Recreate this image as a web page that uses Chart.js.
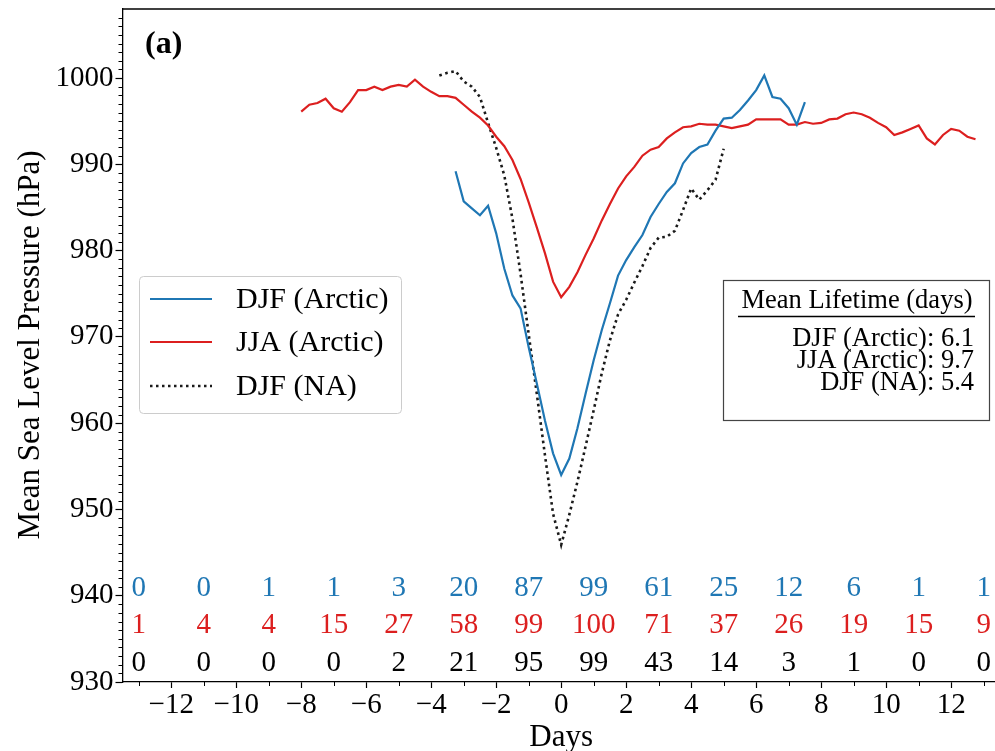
<!DOCTYPE html>
<html>
<head>
<meta charset="utf-8">
<script src="https://cdn.jsdelivr.net/npm/chart.js@4.4.1/dist/chart.umd.min.js"></script>
<style>
  html, body { margin: 0; padding: 0; background: #fff; overflow: hidden; }
  #wrap { width: 995px; height: 751px; position: relative; }
</style>
</head>
<body>
<div id="wrap"><canvas id="c" width="995" height="751"></canvas></div>
<script>
// Composite mean sea level pressure around the time of minimum pressure (day 0).
// Each series is sampled every 0.25 day, starting at the given day.
const STEP = 0.25;

const djfArcticStart = -3.25;
const djfArctic = [
  989.2, 985.7, 984.9, 984.1, 985.2, 982.0, 977.9, 974.8, 973.3, 968.8,
  964.6, 960.3, 956.5, 954.0, 955.9, 959.4, 963.4, 967.3, 970.8, 973.9,
  977.1, 978.9, 980.4, 981.8, 983.9, 985.4, 986.8, 987.8, 990.1, 991.3,
  992.0, 992.3, 993.9, 995.3, 995.4, 996.3, 997.4, 998.6, 1000.3, 997.8,
  997.6, 996.5, 994.6, 997.2
];

const jjaArcticStart = -8.0;
const jjaArctic = [
  996.1, 996.9, 997.1, 997.6, 996.5, 996.1, 997.2, 998.6, 998.6, 999.0,
  998.6, 999.0, 999.2, 999.0, 999.8, 999.0, 998.4, 997.9, 997.9, 997.7,
  996.9, 996.1, 995.4, 994.5, 993.2, 992.1, 990.5, 988.3, 985.6, 982.7,
  979.7, 976.4, 974.6, 975.8, 977.5, 979.5, 981.4, 983.5, 985.4, 987.2,
  988.6, 989.7, 991.0, 991.7, 992.0, 993.0, 993.7, 994.3, 994.4, 994.7,
  994.6, 994.6, 994.4, 994.2, 994.4, 994.6, 995.2, 995.2, 995.2, 995.2,
  994.6, 994.6, 994.9, 994.7, 994.8, 995.2, 995.3, 995.8, 996.0, 995.8,
  995.4, 994.8, 994.3, 993.4, 993.7, 994.1, 994.5, 993.0, 992.3, 993.4,
  994.1, 993.9, 993.2, 992.9
];

const djfNAStart = -3.75;
const djfNA = [
  1000.3, 1000.6, 1000.8, 999.6, 999.0, 997.8, 994.8, 991.9, 988.7, 983.7,
  977.3, 970.3, 963.4, 956.3, 949.5, 945.9, 949.4, 953.2, 957.3, 961.5,
  965.8, 969.6, 972.6, 974.3, 976.3, 978.2, 980.3, 981.5, 981.6, 982.3,
  984.7, 987.2, 985.9, 987.0, 988.2, 991.8
];

// Percentage of cyclones still alive, printed in two-day bins
const countDays = [-13, -11, -9, -7, -5, -3, -1, 1, 3, 5, 7, 9, 11, 13];
const countsDJFArctic = [0, 0, 1, 1, 3, 20, 87, 99, 61, 25, 12, 6, 1, 1];
const countsJJAArctic = [1, 4, 4, 15, 27, 58, 99, 100, 71, 37, 26, 19, 15, 9];
const countsDJFNA = [0, 0, 0, 0, 2, 21, 95, 99, 43, 14, 3, 1, 0, 0];

const xTicks = [-12, -10, -8, -6, -4, -2, 0, 2, 4, 6, 8, 10, 12];
const yTicks = [930, 940, 950, 960, 970, 980, 990, 1000];

const seriesNames = ['DJF (Arctic)', 'JJA (Arctic)', 'DJF (NA)'];
const lifetimeTitle = 'Mean Lifetime (days)';
const lifetimeLines = ['DJF (Arctic): 6.1', 'JJA (Arctic): 9.7', 'DJF (NA): 5.4'];

const BLUE = '#1f77b4';
const RED = '#dc1f1f';
const BLACK = '#1a1a1a';
const SERIF = '"Liberation Serif", "Times New Roman", serif';

function toPoints(start, values) {
  return values.map((v, i) => ({ x: start + i * STEP, y: v }));
}
function fmt(v) {
  return v < 0 ? '\u2212' + Math.abs(v) : String(v);
}

const decor = {
  id: 'decor',
  afterDraw(chart) {
    const ctx = chart.ctx;
    const xs = chart.scales.x, ys = chart.scales.y;
    const a = chart.chartArea;
    ctx.save();

    // top spine
    ctx.strokeStyle = '#000';
    ctx.lineWidth = 1.3;
    ctx.beginPath();
    ctx.moveTo(a.left, a.top);
    ctx.lineTo(a.right, a.top);
    ctx.stroke();

    // minor ticks
    ctx.lineWidth = 1;
    ctx.beginPath();
    for (let v = 931; v <= 1007; v++) {
      if (v % 10 === 0) continue;
      const py = Math.round(ys.getPixelForValue(v)) + 0.5;
      ctx.moveTo(a.left - 4, py);
      ctx.lineTo(a.left, py);
    }
    for (let d = -13; d <= 13; d += 2) {
      const px = Math.round(xs.getPixelForValue(d)) + 0.5;
      if (px > a.right) continue;
      ctx.moveTo(px, a.bottom);
      ctx.lineTo(px, a.bottom + 4);
    }
    ctx.stroke();

    // counts in three rows
    ctx.font = '29px ' + SERIF;
    ctx.textAlign = 'center';
    ctx.textBaseline = 'middle';
    const rows = [
      [countsDJFArctic, BLUE, 940.9],
      [countsJJAArctic, RED, 936.6],
      [countsDJFNA, '#000', 932.2]
    ];
    rows.forEach(([vals, col, yv]) => {
      ctx.fillStyle = col;
      vals.forEach((n, i) => {
        ctx.fillText(String(n), xs.getPixelForValue(countDays[i]), ys.getPixelForValue(yv));
      });
    });

    // panel tag
    ctx.fillStyle = '#000';
    ctx.font = 'bold 32px ' + SERIF;
    ctx.textAlign = 'left';
    ctx.fillText('(a)', 145, 45);

    // axis titles
    ctx.font = '31px ' + SERIF;
    ctx.textAlign = 'center';
    ctx.fillText('Days', xs.getPixelForValue(0), 738);
    ctx.save();
    ctx.translate(31, 345);
    ctx.rotate(-Math.PI / 2);
    ctx.fillText('Mean Sea Level Pressure (hPa)', 0, 0);
    ctx.restore();

    // legend
    ctx.fillStyle = 'rgba(255,255,255,0.85)';
    ctx.strokeStyle = '#cccccc';
    ctx.lineWidth = 1;
    ctx.beginPath();
    ctx.roundRect(139.5, 276.5, 262, 137, 4);
    ctx.fill();
    ctx.stroke();
    const legendY = [299, 342, 386];
    const legendStyle = [[BLUE, []], [RED, []], [BLACK, [2.5, 3.5]]];
    legendY.forEach((y, i) => {
      ctx.strokeStyle = legendStyle[i][0];
      ctx.lineWidth = i === 2 ? 2.5 : 2;
      ctx.setLineDash(legendStyle[i][1]);
      ctx.beginPath();
      ctx.moveTo(150, y);
      ctx.lineTo(212, y);
      ctx.stroke();
      ctx.setLineDash([]);
      ctx.fillStyle = '#000';
      ctx.font = '30px ' + SERIF;
      ctx.textAlign = 'left';
      ctx.fillText(seriesNames[i], 236, y + 1);
    });

    // lifetime box
    ctx.fillStyle = '#fff';
    ctx.strokeStyle = '#444';
    ctx.lineWidth = 1.2;
    ctx.fillRect(723.5, 280.5, 266, 140);
    ctx.strokeRect(723.5, 280.5, 266, 140);
    ctx.fillStyle = '#000';
    ctx.font = '26.5px ' + SERIF;
    ctx.textAlign = 'center';
    ctx.fillText(lifetimeTitle, 857, 301);
    ctx.strokeStyle = '#000';
    ctx.lineWidth = 1.3;
    ctx.beginPath();
    ctx.moveTo(738, 316.5);
    ctx.lineTo(975, 316.5);
    ctx.stroke();
    ctx.textAlign = 'right';
    [339, 361, 383].forEach((y, i) => ctx.fillText(lifetimeLines[i], 974, y));

    ctx.restore();
  }
};

new Chart(document.getElementById('c'), {
  type: 'line',
  data: {
    datasets: [
      { label: seriesNames[0], data: toPoints(djfArcticStart, djfArctic),
        borderColor: BLUE, borderWidth: 2.2, pointRadius: 0, tension: 0, fill: false },
      { label: seriesNames[1], data: toPoints(jjaArcticStart, jjaArctic),
        borderColor: RED, borderWidth: 2.2, pointRadius: 0, tension: 0, fill: false },
      { label: seriesNames[2], data: toPoints(djfNAStart, djfNA),
        borderColor: BLACK, borderWidth: 2.6, borderDash: [2.6, 3.6], pointRadius: 0, tension: 0, fill: false }
    ]
  },
  options: {
    responsive: false,
    animation: false,
    devicePixelRatio: 1,
    layout: { padding: { top: 9, right: 0, bottom: 0, left: 0 } },
    plugins: { legend: { display: false }, tooltip: { enabled: false } },
    scales: {
      x: {
        type: 'linear',
        min: -13.5,
        max: 13.35,
        afterBuildTicks(s) { s.ticks = xTicks.map(v => ({ value: v })); },
        afterFit(s) { s.height = 69; s.paddingLeft = 0; s.paddingRight = 0; },
        ticks: {
          autoSkip: false, maxRotation: 0, padding: 0, color: '#000',
          font: { family: SERIF, size: 29 },
          callback: v => fmt(v)
        },
        grid: { drawOnChartArea: false, drawTicks: true, tickLength: 6, tickWidth: 1.2, tickColor: '#000' },
        border: { display: true, color: '#000', width: 1.3 }
      },
      y: {
        min: 930,
        max: 1008,
        afterBuildTicks(s) { s.ticks = yTicks.map(v => ({ value: v })); },
        afterFit(s) { s.width = 122.5; s.paddingTop = 0; s.paddingBottom = 0; },
        ticks: {
          autoSkip: false, padding: 2, color: '#000',
          font: { family: SERIF, size: 29 },
          callback: v => fmt(v)
        },
        grid: { drawOnChartArea: false, drawTicks: true, tickLength: 7, tickWidth: 1.2, tickColor: '#000' },
        border: { display: true, color: '#000', width: 1.3 }
      }
    }
  },
  plugins: [decor]
});
</script>
</body>
</html>
